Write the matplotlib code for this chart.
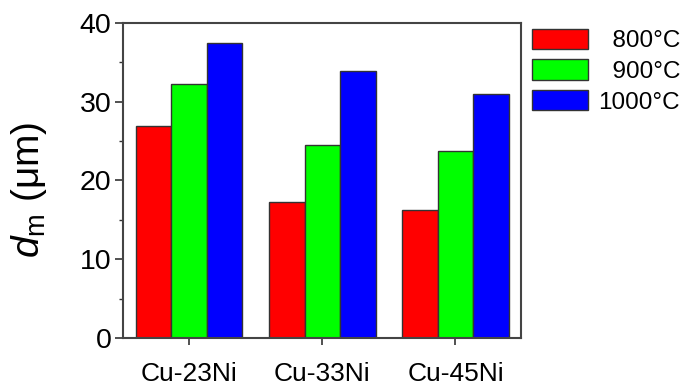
import matplotlib
matplotlib.use("Agg")
import matplotlib.pyplot as plt
import numpy as np

plt.rcParams['font.family'] = ['Liberation Sans', 'DejaVu Sans']
plt.rcParams['mathtext.fontset'] = 'custom'
plt.rcParams['mathtext.rm'] = 'Liberation Sans'
plt.rcParams['mathtext.it'] = 'Liberation Sans:italic'

categories = ['Cu-23Ni', 'Cu-33Ni', 'Cu-45Ni']
series_labels = ['\u2007800°C', '\u2007900°C', '1000°C']
values_800 = [26.9, 17.3, 16.2]
values_900 = [32.2, 24.5, 23.7]
values_1000 = [37.5, 33.9, 31.0]
series_values = [values_800, values_900, values_1000]
colors = ['#ff0000', '#00ff00', '#0000ff']
yticks = [0, 10, 20, 30, 40]

fig = plt.figure(figsize=(6.86, 3.89), dpi=100)
ax = fig.add_axes([0.1786, 0.1311, 0.5805, 0.8098])

x = np.arange(len(categories))
w = 0.267
for i, (vals, c, lab) in enumerate(zip(series_values, colors, series_labels)):
    ax.bar(x + (i - 1) * w, vals, width=w, color=c, edgecolor='#333333',
           linewidth=1.0, label=lab)

ax.set_xlim(-0.5, 2.49)
ax.set_ylim(0, 40)
ax.set_xticks(x)
ax.set_xticklabels(categories, fontsize=19)
ax.set_yticks(yticks)
ax.set_yticklabels([str(t) for t in yticks], fontsize=20.5)
ax.set_yticks(np.arange(5, 40, 10), minor=True)
ax.tick_params(axis='y', which='major', direction='out', length=6, width=1.2,
               color='#333333', pad=2)
ax.tick_params(axis='y', which='minor', direction='out', length=3, width=1.0,
               color='#333333')
ax.tick_params(axis='x', which='major', direction='out', length=5, width=1.2,
               color='#333333', pad=12)
for s in ax.spines.values():
    s.set_linewidth(1.5)
    s.set_color('#444444')

ax.set_ylabel(r'$d_{\mathrm{m}}$ (μm)', fontsize=28)
ax.yaxis.set_label_coords(-0.185, 0.47)

leg = ax.legend(loc='upper left', bbox_to_anchor=(0.985, 1.036), frameon=False,
                fontsize=17.5, handlelength=2.3, handleheight=0.9,
                labelspacing=0.3, handletextpad=0.45, borderaxespad=0.3)

fig.savefig('out.png', dpi=100)
